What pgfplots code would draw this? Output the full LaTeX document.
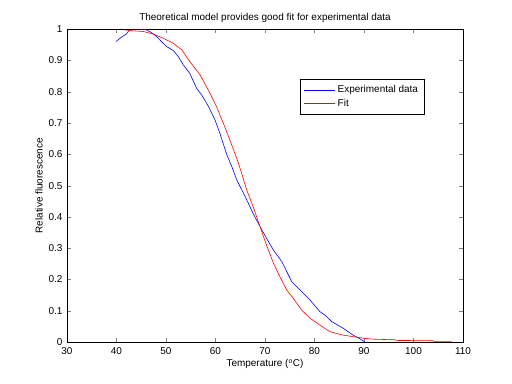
\documentclass[border=0pt]{standalone}
\usepackage{fontspec}
\setmainfont{Liberation Sans}
\usepackage{pgfplots}
\pgfplotsset{compat=1.18}
\begin{document}
\fontsize{10}{12}\selectfont
\begin{tikzpicture}[x=1bp,y=1bp]
\useasboundingbox (-67bp,-42bp) rectangle (445bp,342bp);
\begin{axis}[
  at={(0,0)}, anchor=south west,
  scale only axis, width=396bp, height=312.7bp,
  xmin=30, xmax=110, ymin=0, ymax=1,
  xtick={30,40,...,110},
  ytick={0,0.1,...,1},
  yticklabels={0,0.1,0.2,0.3,0.4,0.5,0.6,0.7,0.8,0.9,1},
  tick align=inside,
  major tick length=4bp,
  xtick pos=both, ytick pos=both,
  /pgf/number format/assume math mode=true,
  tick label style={font=\fontsize{10}{12}\selectfont},
  xticklabel style={yshift=-2bp},
  yticklabel style={xshift=-1bp},
  label style={font=\fontsize{10}{12}\selectfont},
  title style={font=\fontsize{10}{12}\selectfont, yshift=-3bp},
  axis line style={black, line width=0.5pt},
  title={Theoretical model provides good fit for experimental data},
  xlabel={Temperature (\textsuperscript{o}C)},
  ylabel={Relative fluorescence},
  xlabel style={yshift=2bp},
  ylabel style={yshift=-1bp},
  legend style={at={(0.588,0.840)}, anchor=north west, draw=black, line width=0.6pt,
    font=\fontsize{10}{12}\selectfont, inner xsep=4pt, inner ysep=4pt, row sep=1pt,
    cells={anchor=west}},
  legend cell align=left,
  legend image code/.code={\draw[#1, line width=0.6pt] (0bp,0bp) -- (31bp,0bp);},
]
\addplot[blue, line width=0.6pt] coordinates {
(39.9,0.961) (41.0,0.975) (42.0,0.985) (42.7,1.0) (44.0,1.0) (45.8,1.0) (47.0,0.99) (48.1,0.977)
(49.0,0.962) (50.1,0.945) (51.5,0.932) (52.5,0.912) (53.5,0.886) (54.8,0.859) (56.2,0.811)
(57.2,0.790) (58.6,0.753) (59.9,0.710) (60.9,0.667) (62.3,0.598) (63.3,0.561) (64.3,0.518)
(66.0,0.465) (67.6,0.411) (69.0,0.369) (70.3,0.332) (71.7,0.294) (73.4,0.257) (75.4,0.193)
(77.1,0.166) (79.1,0.134) (81.1,0.097) (82.2,0.085) (83.5,0.065) (85.8,0.044) (87.8,0.022)
(89.0,0.012) (90.1,0.001)
};
\addlegendentry{Experimental data}
\addplot[red, line width=0.6pt] coordinates {
(41.7,0.998) (43.4,0.995) (45.4,0.993) (47.4,0.985) (49.5,0.971) (51.5,0.955) (53.2,0.934)
(54.8,0.897) (56.9,0.854) (58.9,0.795) (60.2,0.753) (61.6,0.699) (62.9,0.646) (64.3,0.587)
(65.3,0.539) (66.3,0.486) (67.6,0.433) (69.0,0.369) (70.3,0.310) (71.7,0.252) (73.0,0.209)
(74.4,0.166) (75.7,0.140) (77.4,0.102) (79.1,0.076) (81.1,0.054) (83.1,0.033) (85.8,0.022)
(87.8,0.017) (89.9,0.012) (91.9,0.009) (96.3,0.007) (96.6,0.005) (104.0,0.004) (104.1,0.002) (107.7,0.002)
};
\addlegendentry{Fit}
\end{axis}
\end{tikzpicture}
\end{document}
